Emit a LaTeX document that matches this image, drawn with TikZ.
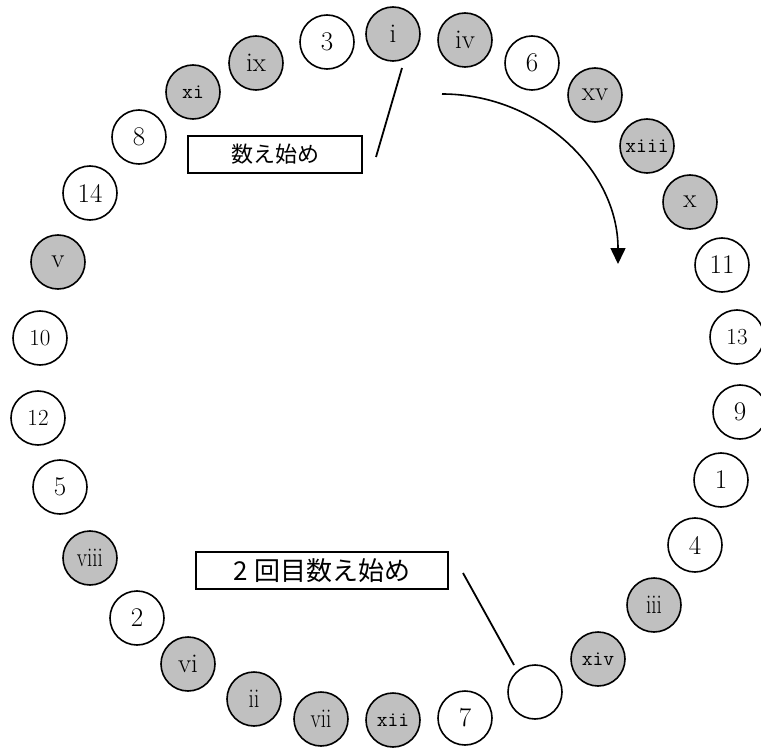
\documentclass[tikz,border=0pt]{standalone}
\usepackage{fontspec}
\newfontfamily\jp{Noto Sans CJK JP}
\usetikzlibrary{arrows.meta}
\tikzset{
  ball/.style={circle, draw, line width=1.6pt, minimum size=54pt, inner sep=0pt, fill=white},
  gball/.style={ball, fill=ballgray},
  nbig/.style={font=\fontsize{27}{27}\selectfont},
  nsmall/.style={font=\fontsize{23}{23}\selectfont},
  rom/.style={font=\fontsize{27}{27}\selectfont},
  romtt/.style={font=\fontsize{21}{21}\selectfont\ttfamily\mdseries},
  label box/.style={draw, line width=2.4pt, inner sep=0pt, anchor=center},
  pointer/.style={line width=1.8pt},
}
\definecolor{ballgray}{RGB}{192,192,192}
\newcommand{\narrow}[1]{\scalebox{0.78}[1]{#1}}
\begin{document}
\begin{tikzpicture}[x=1pt,y=-1pt]
\useasboundingbox (0,0) rectangle (761,749);
% ring of balls
\node[gball,rom]   (bi)    at (393,34)  {i};
\node[gball,rom]   (biv)   at (465,40)  {iv};
\node[ball,nbig]   (b6)    at (532,63)  {6};
\node[gball,rom]   (bxv)   at (595,95)  {xv};
\node[gball,romtt] (bxiii) at (647,146) {xiii};
\node[gball,rom]   (bx)    at (690,202) {x};
\node[ball,nbig]   (b11)   at (722,265) {11};
\node[ball,nsmall] (b13)   at (737,337) {13};
\node[ball,nbig]   (b9)    at (740,412) {9};
\node[ball,nbig]   (b1)    at (721,480) {1};
\node[ball,nbig]   (b4)    at (695,545) {4};
\node[gball,rom]   (biii)  at (654,605) {\narrow{iii}};
\node[gball,romtt] (bxiv)  at (598,659) {xiv};
\node[ball]        (bempty) at (535,692) {};
\node[ball,nbig]   (b7)    at (465,718) {7};
\node[gball,romtt] (bxii)  at (393,720) {xii};
\node[gball,rom]   (bvii)  at (321,719) {\narrow{vii}};
\node[gball,rom]   (bii)   at (254,699) {\narrow{ii}};
\node[gball,rom]   (bvi)   at (188,664) {vi};
\node[ball,nbig]   (b2)    at (137,618) {2};
\node[gball,rom]   (bviii) at (90,558)  {\narrow{viii}};
\node[ball,nbig]   (b5)    at (60,487)  {5};
\node[ball,nsmall] (b12)   at (38,418)  {12};
\node[ball,nsmall] (b10)   at (40,338)  {10};
\node[gball,rom]   (bv)    at (58,262)  {v};
\node[ball,nbig]   (b14)   at (90,193)  {14};
\node[ball,nbig]   (b8)    at (139,137) {8};
\node[gball,romtt] (bxi)   at (193,92)  {xi};
\node[gball,rom]   (bix)   at (256,63)  {ix};
\node[ball,nbig]   (b3)    at (327,42)  {3};
% label boxes
\node[label box, minimum width=174pt, minimum height=37pt, font=\jp\fontsize{22}{22}\selectfont] (start1) at (275,154.5) {数え始め};
\node[label box, minimum width=252pt, minimum height=37pt, font=\jp\fontsize{26}{26}\selectfont] (start2) at (322,570.5) {2\hspace{7pt}回目数え始め};
% pointers
\coordinate (p1a) at (402,68);
\coordinate (p1b) at (376,157);
\draw[pointer] (p1a) -- (p1b);
\coordinate (p2a) at (463,573);
\coordinate (p2b) at (514,665);
\draw[pointer] (p2a) -- (p2b);
% direction arrow
\coordinate (arcS) at (442,94);
\coordinate (arcE) at (618,264);
\draw[pointer, line width=1.6pt, -{Triangle[length=16pt,width=15pt]}] (arcS) .. controls (539,94) and (618,170) .. (arcE);
\end{tikzpicture}
\end{document}
